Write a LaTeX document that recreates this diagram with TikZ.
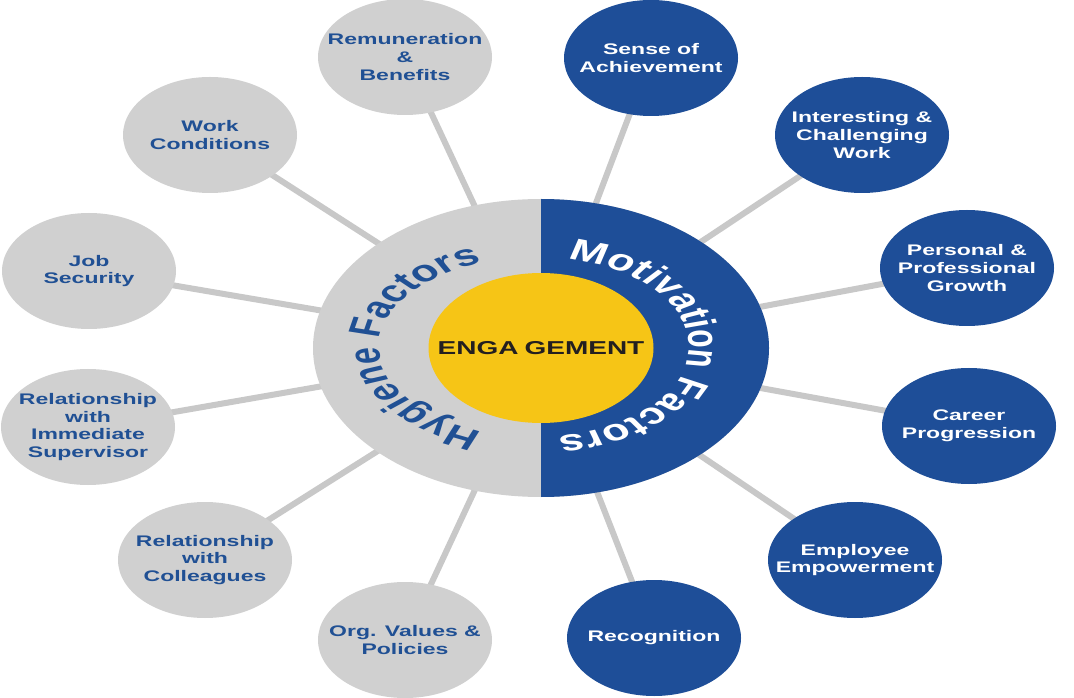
\documentclass[tikz,border=0pt]{standalone}
\usepackage{fontspec}
\setmainfont{Liberation Sans}
\usetikzlibrary{decorations.text,backgrounds}

\definecolor{motblue}{RGB}{30,78,152}
\definecolor{hyggray}{RGB}{208,208,208}
\definecolor{linkgray}{RGB}{200,200,200}
\definecolor{coreyellow}{RGB}{246,197,22}
\definecolor{labelblue}{RGB}{32,80,148}
\definecolor{inkdark}{RGB}{35,31,32}

\newcommand{\ringfont}{\fontsize{22.5}{25}\selectfont\bfseries}

\tikzset{
  factor/.style={circle, minimum size=87pt, inner sep=0pt, align=center,
    font=\fontsize{11.5}{13.2}\selectfont\bfseries},
  hygiene/.style={factor, fill=hyggray, text=labelblue},
  motivator/.style={factor, fill=motblue, text=white},
  link/.style={draw=linkgray, line width=4.5pt},
  hub/.style={circle, minimum size=112.5pt, inner sep=0pt, fill=coreyellow,
    text=inkdark, font=\fontsize{14}{16}\selectfont\bfseries},
}

\begin{document}
\begin{tikzpicture}[x=0.75pt,y=-0.75pt]
\useasboundingbox (0,0) rectangle (1074,698);
\coordinate (mid) at (541,348);

% outer ring: hygiene half (grey) and motivation half (blue)
\fill[hyggray] (mid) ellipse[x radius=171pt, y radius=111.75pt];
\fill[motblue] (541,199) arc[start angle=90, end angle=-90,
  x radius=171pt, y radius=111.75pt] -- cycle;

% curved titles, set on a near-circle and widened with the rest
\begin{scope}[x=0.5pt, transform canvas={xscale=1.5}]
  \coordinate (ringmid) at (541,347);
  \path[decorate, decoration={text along path, text align=center,
    text={|\ringfont\color{labelblue}|Hygiene Factors}}]
    (ringmid) ++(260:81pt and 68pt)
    arc[start angle=260, end angle=100, x radius=81pt, y radius=68pt];
  \path[decorate, decoration={text along path, text align=center,
    text={|\ringfont\color{white}|Motivation Factors}}]
    (ringmid) ++(88:74pt and 67pt)
    arc[start angle=88, end angle=-92, x radius=74pt, y radius=67pt];
\end{scope}

% centre and factor bubbles, stretched horizontally
\begin{scope}[x=0.5pt, xscale=1.5, transform shape]
  \node[hub] (core) at (541,348) {ENGA\kern3pt GEMENT};

  \node[hygiene] (h1) at (405,57)  {Remuneration\\\&\\Benefits};
  \node[hygiene] (h2) at (210,135) {Work\\Conditions};
  \node[hygiene] (h3) at (89,271)  {Job\\Security};
  \node[hygiene] (h4) at (88,427)  {Relationship\\with\\Immediate\\Supervisor};
  \node[hygiene] (h5) at (205,560) {Relationship\\with\\Colleagues};
  \node[hygiene] (h6) at (405,640) {Org. Values \&\\Policies};

  \node[motivator] (m1) at (651,58)  {Sense of\\Achievement};
  \node[motivator] (m2) at (862,135) {Interesting \&\\Challenging\\Work};
  \node[motivator] (m3) at (967,268) {Personal \&\\Professional\\Growth};
  \node[motivator] (m4) at (969,426) {Career\\Progression};
  \node[motivator] (m5) at (855,560) {Employee\\Empowerment};
  \node[motivator] (m6) at (654,638) {Recognition};
\end{scope}

% spokes behind everything
\begin{scope}[on background layer]
  \fill[white] (0,0) rectangle (1074,698);
  \foreach \n in {h1,h2,h3,h4,h5,h6,m1,m2,m3,m4,m5,m6}
    \draw[link] (mid) -- (\n.center);
\end{scope}
\end{tikzpicture}
\end{document}
